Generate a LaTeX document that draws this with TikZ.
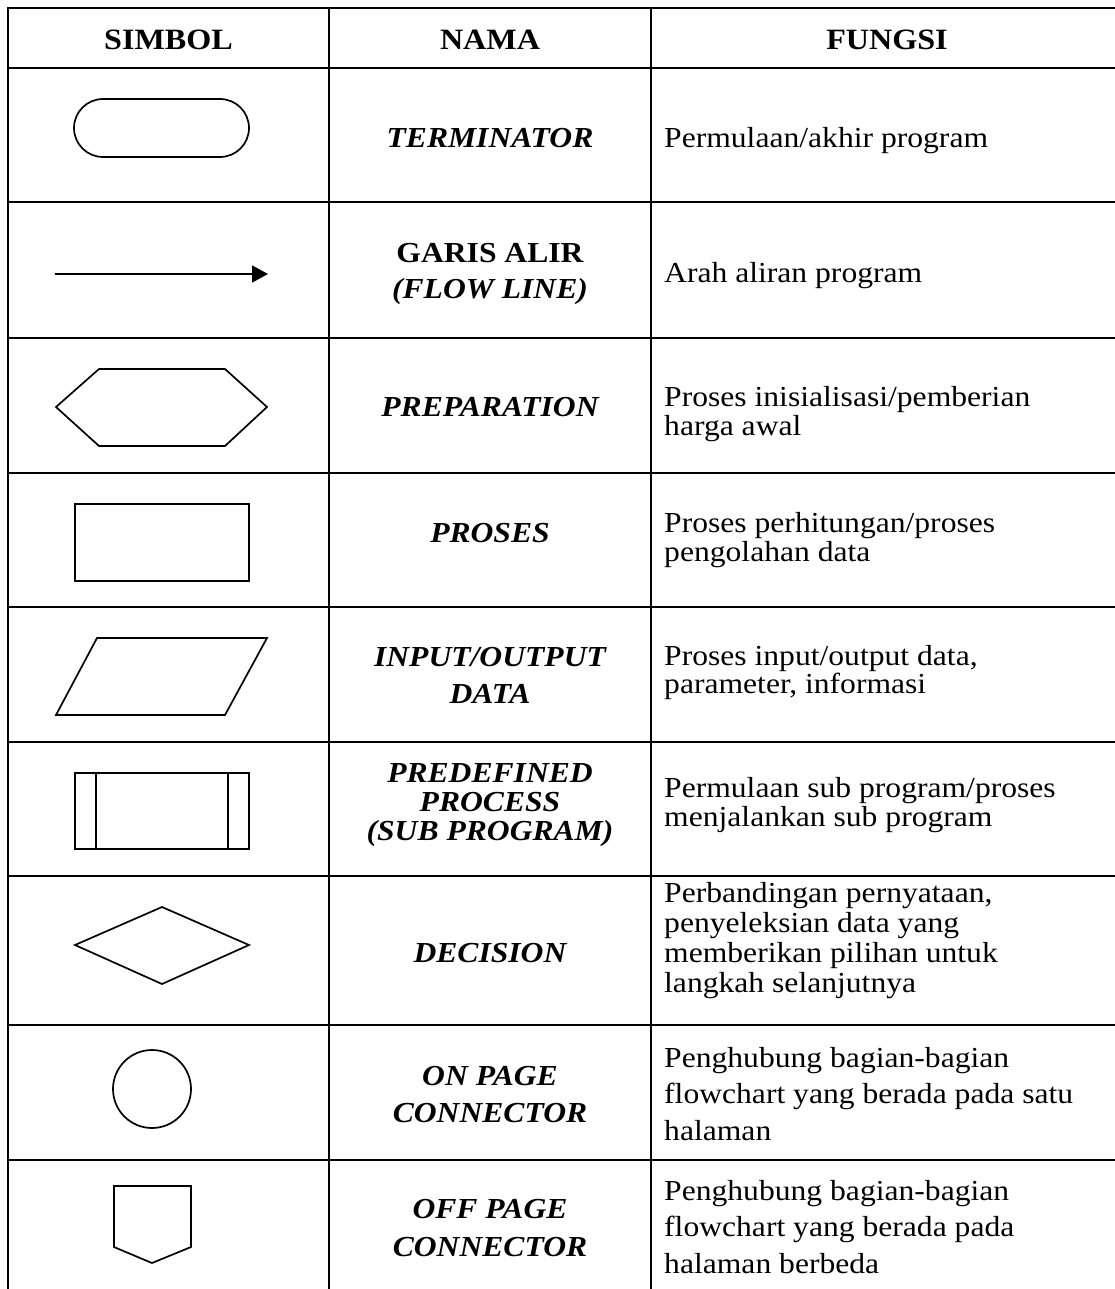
\documentclass[tikz,border=0pt]{standalone}
\usepackage{fontspec}
\setmainfont{Liberation Serif}[FakeStretch=1.09]
\usetikzlibrary{arrows.meta}
\newcommand\fl{\rule{0pt}{26pt}}
\newcommand\lsp[1]{\fontsize{29}{#1}\selectfont}
\tikzset{
  grid/.style={line width=2.7pt, line cap=rect},
  sym/.style={line width=1.7pt, line join=miter},
  hd/.style={inner sep=0pt, anchor=base, font=\fontsize{29.5}{30}\selectfont\bfseries},
  nm/.style={inner sep=0pt, anchor=north, align=center},
  fn/.style={inner sep=0pt, anchor=north west, align=left},
}
\begin{document}
\begin{tikzpicture}[x=1pt,y=-1pt]
\useasboundingbox (0,0) rectangle (1114,1289);
% grid
\foreach \yy in {8,68,202,338,473,607,742,876,1025,1160}
  \draw[grid] (8,\yy) -- (1116,\yy);
\foreach \xx in {8,329,651}
  \draw[grid] (\xx,8) -- (\xx,1292);

% header
\node[hd] (h1) at (168.5,50) {SIMBOL};
\node[hd] (h2) at (490,50) {NAMA};
\node[hd] (h3) at (887,50) {FUNGSI};

% symbols
\draw[sym, rounded corners=29pt] (74,99) rectangle (249,157);
\coordinate (aS) at (55,274);
\coordinate (aE) at (268,274);
\draw[sym, -{Triangle[length=16pt,width=17pt]}] (aS) -- (aE);
\draw[sym] (56,407) -- (99,369) -- (225,369) -- (267,407) -- (225,446) -- (99,446) -- cycle;
\draw[sym] (75,504) rectangle (249,581);
\draw[sym] (97,638) -- (267,638) -- (225,715) -- (56,715) -- cycle;
\draw[sym] (75,773) rectangle (249,849);
\draw[sym] (96,773) -- (96,849);
\draw[sym] (228,773) -- (228,849);
\draw[sym] (75,945) -- (162,907) -- (249,945) -- (162,984) -- cycle;
\draw[sym] (152,1089) circle[radius=39];
\draw[sym] (114,1186) -- (191,1186) -- (191,1247) -- (152,1263) -- (114,1247) -- cycle;

% names (column 2): north = first baseline - 26
\node[nm, font=\lsp{30}\bfseries\itshape] (n1) at (490,121) {\fl TERMINATOR};
\node[nm, font=\lsp{36}\bfseries] (n2) at (490,236) {\fl GARIS ALIR\\\itshape(FLOW LINE)};
\node[nm, font=\lsp{30}\bfseries\itshape] (n3) at (490,390) {\fl PREPARATION};
\node[nm, font=\lsp{30}\bfseries\itshape] (n4) at (490,516) {\fl PROSES};
\node[nm, font=\lsp{37}\bfseries\itshape] (n5) at (490,640) {\fl INPUT/OUTPUT\\DATA};
\node[nm, font=\lsp{29}\bfseries\itshape] (n6) at (490,756) {\fl PREDEFINED\\PROCESS\\(SUB PROGRAM)};
\node[nm, font=\lsp{30}\bfseries\itshape] (n7) at (490,936) {\fl DECISION};
\node[nm, font=\lsp{37}\bfseries\itshape] (n8) at (490,1059) {\fl ON PAGE\\CONNECTOR};
\node[nm, font=\lsp{38}\bfseries\itshape] (n9) at (490,1192) {\fl OFF PAGE\\CONNECTOR};

% functions (column 3)
\node[fn, font=\lsp{30}] (f1) at (664,121) {\fl Permulaan/akhir program};
\node[fn, font=\lsp{30}] (f2) at (664,256) {\fl Arah aliran program};
\node[fn, font=\lsp{29}] (f3) at (664,380) {\fl Proses inisialisasi/pemberian\\harga awal};
\node[fn, font=\lsp{29}] (f4) at (664,506) {\fl Proses perhitungan/proses\\pengolahan data};
\node[fn, font=\lsp{28}] (f5) at (664,639) {\fl Proses input/output data,\\parameter, informasi};
\node[fn, font=\lsp{29}] (f6) at (664,771) {\fl Permulaan sub program/proses\\menjalankan sub program};
\node[fn, font=\lsp{30}] (f7) at (664,876) {\fl Perbandingan pernyataan,\\penyeleksian data yang\\memberikan pilihan untuk\\langkah selanjutnya};
\node[fn, font=\lsp{36.5}] (f8) at (664,1041) {\fl Penghubung bagian-bagian\\flowchart yang berada pada satu\\halaman};
\node[fn, font=\lsp{36.5}] (f9) at (664,1174) {\fl Penghubung bagian-bagian\\flowchart yang berada pada\\halaman berbeda};
\end{tikzpicture}
\end{document}
